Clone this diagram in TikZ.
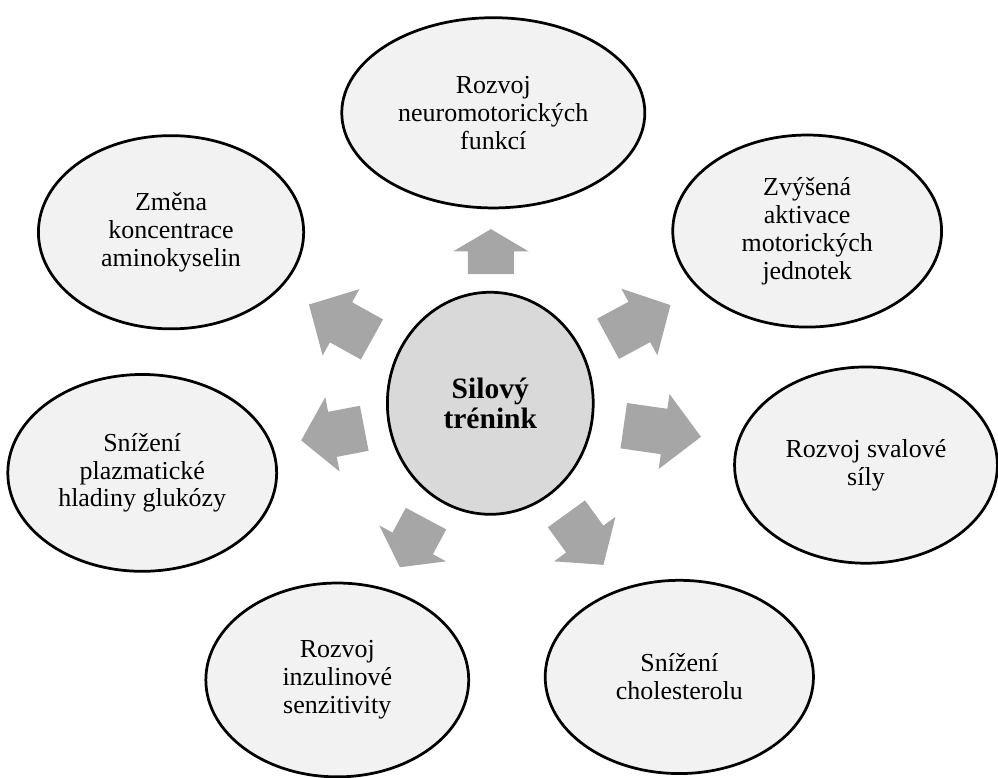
\documentclass[tikz,border=0pt]{standalone}
\usepackage{fontspec}
\setmainfont{Liberation Serif}
\usepackage{tikz}
\usetikzlibrary{shapes.geometric, shapes.arrows, positioning}
\definecolor{ovalfill}{HTML}{F2F2F2}
\definecolor{hubfill}{HTML}{D9D9D9}
\definecolor{arrowfill}{HTML}{A6A6A6}

\begin{document}
\begin{tikzpicture}[
    every node/.style={align=center, inner sep=0pt},
    oval/.style={ellipse, draw=black, line width=1.3pt, fill=ovalfill,
                 font=\fontsize{12.3}{13.2}\selectfont},
    hub/.style={ellipse, draw=black, line width=1.3pt, fill=hubfill,
                font=\fontsize{14}{14.6}\selectfont\bfseries},
    blockarrow/.style={single arrow, fill=arrowfill, draw=none, anchor=tip,
                       inner xsep=0pt, inner ysep=0.375cm,
                       minimum width=1.25cm, single arrow head extend=0.25cm}
  ]
  \useasboundingbox (0,0) rectangle (16.63,12.95);

  % Centre
  \node[hub, minimum width=3.43cm, minimum height=3.70cm] (silovy) at (8.17, 6.23)
    {Silový\\trénink};

  % Outer ovals
  \node[oval, minimum width=5.05cm, minimum height=3.17cm] (neuro) at (8.22, 11.07)
    {Rozvoj\\neuromotorických\\funkcí};
  \node[oval, minimum width=4.48cm, minimum height=3.20cm] (aktivace) at (13.45, 9.10)
    {Zvýšená\\aktivace\\motorických\\jednotek};
  \node[oval, minimum width=4.38cm, minimum height=3.27cm] (sila) at (14.43, 5.20)
    {Rozvoj svalové\\síly};
  \node[oval, minimum width=4.47cm, minimum height=3.22cm] (cholesterol) at (11.32, 1.67)
    {Snížení\\cholesterolu};
  \node[oval, minimum width=4.38cm, minimum height=3.23cm] (inzulin) at (5.62, 1.62)
    {Rozvoj\\inzulinové\\senzitivity};
  \node[oval, minimum width=4.48cm, minimum height=3.28cm] (glukoza) at (2.37, 5.07)
    {Snížení\\plazmatické\\hladiny glukózy};
  \node[oval, minimum width=4.42cm, minimum height=3.22cm] (amino) at (2.85, 9.08)
    {Změna\\koncentrace\\aminokyselin};

  % Block arrows (placed by their tips)
  \node[blockarrow, rotate=90, minimum height=0.75cm, single arrow tip angle=119] (a1) at (8.18, 9.14) {};
  \node[blockarrow, rotate=28.4, minimum height=1.18cm, single arrow tip angle=94] (a2) at (11.18, 7.87) {};
  \node[blockarrow, rotate=-8.2, minimum height=1.30cm, single arrow tip angle=91] (a3) at (11.69, 5.67) {};
  \node[blockarrow, rotate=-54.1, minimum height=1.05cm, single arrow tip angle=100] (a4) at (10.06, 3.53) {};
  \node[blockarrow, rotate=-118.2, minimum height=0.92cm, single arrow tip angle=109] (a5) at (6.66, 3.49) {};
  \node[blockarrow, rotate=190.9, minimum height=1.07cm, single arrow tip angle=100] (a6) at (5.01, 5.61) {};
  \node[blockarrow, rotate=151, minimum height=1.20cm, single arrow tip angle=92] (a7) at (5.14, 7.88) {};
\end{tikzpicture}
\end{document}
